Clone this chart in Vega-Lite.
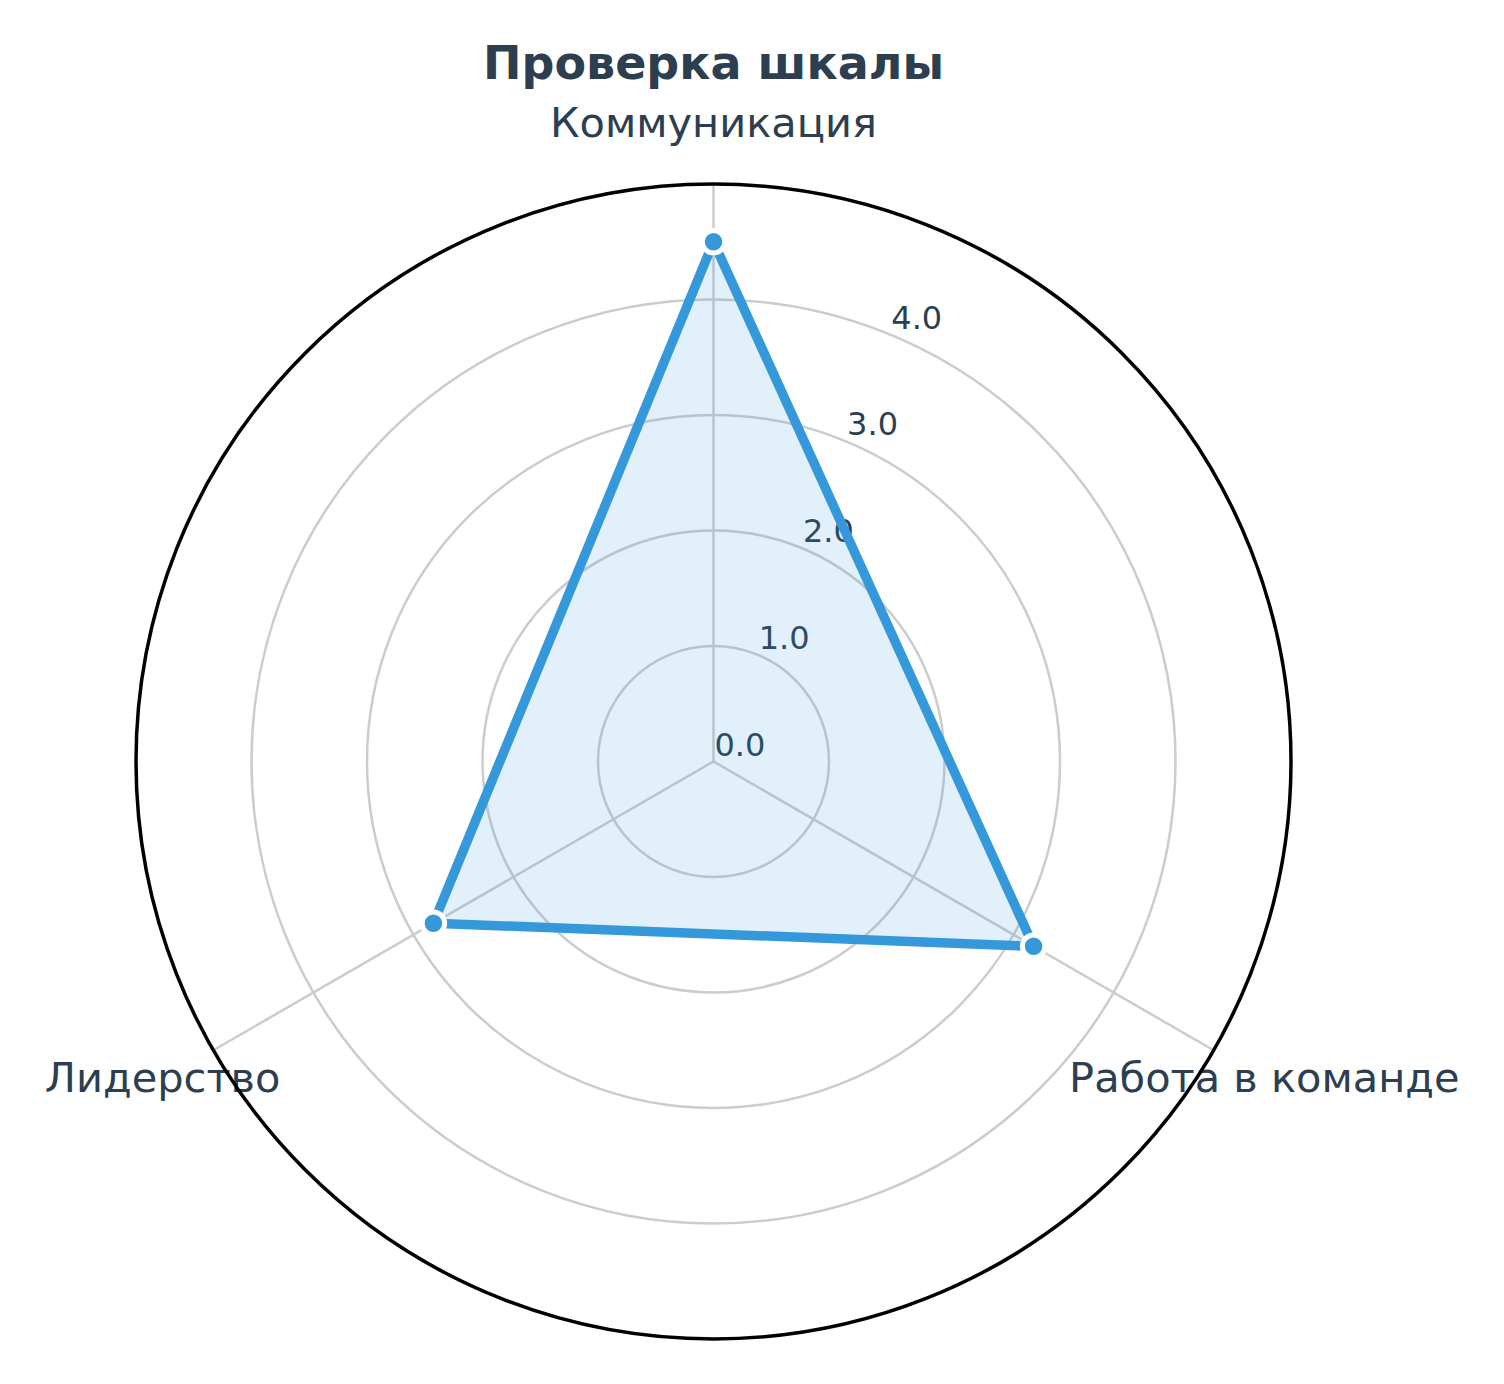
{
  "$schema": "https://vega.github.io/schema/vega-lite/v6.json",
  "width": 1155,
  "height": 1155,
  "autosize": {"type": "none"},
  "padding": {"left": 136, "top": 184, "right": 213, "bottom": 45},
  "background": "white",
  "title": {"text": "Проверка шкалы", "font": "DejaVu Sans", "fontSize": 46, "fontWeight": "bold", "color": "#2c3e50", "anchor": "middle", "frame": "group", "offset": 15},
  "config": {"view": {"stroke": null}},
  "datasets": {
    "scores": [
      {"axis": "Коммуникация", "order": 0, "value": 4.5},
      {"axis": "Работа в команде", "order": 1, "value": 3.2},
      {"axis": "Лидерство", "order": 2, "value": 2.8}
    ],
    "rings": [{"r": 1}, {"r": 2}, {"r": 3}, {"r": 4}],
    "outer": [{"r": 5}],
    "ticks": [
      {"t": 0, "label": "0.0"},
      {"t": 1, "label": "1.0"},
      {"t": 2, "label": "2.0"},
      {"t": 3, "label": "3.0"},
      {"t": 4, "label": "4.0"}
    ]
  },
  "layer": [
    {
      "data": {"name": "rings"},
      "mark": {"type": "arc", "theta": 0, "theta2": 6.2832, "filled": false, "stroke": "#cccccc", "strokeWidth": 2.5},
      "encoding": {
        "radius": {"field": "r", "type": "quantitative", "stack": null, "scale": {"type": "linear", "domain": [0, 5], "range": [0, 577.5]}, "legend": null}
      }
    },
    {
      "data": {"name": "scores"},
      "transform": [
        {"calculate": "datum.order * 2 * PI / 3", "as": "theta"},
        {"calculate": "5 * sin(datum.theta)", "as": "xe"},
        {"calculate": "5 * cos(datum.theta)", "as": "ye"},
        {"calculate": "0", "as": "zero"}
      ],
      "mark": {"type": "rule", "stroke": "#cccccc", "strokeWidth": 2.5},
      "encoding": {
        "x": {"field": "zero", "type": "quantitative", "scale": {"domain": [-5, 5], "nice": false}, "axis": null},
        "y": {"field": "zero", "type": "quantitative", "scale": {"domain": [-5, 5], "nice": false}, "axis": null},
        "x2": {"field": "xe"},
        "y2": {"field": "ye"}
      }
    },
    {
      "data": {"name": "ticks"},
      "transform": [
        {"calculate": "datum.t * sin(PI / 8)", "as": "tx"},
        {"calculate": "datum.t * cos(PI / 8)", "as": "ty"}
      ],
      "mark": {"type": "text", "align": "left", "baseline": "alphabetic", "dx": 1, "dy": -6, "font": "DejaVu Sans", "fontSize": 32, "color": "#2c3e50"},
      "encoding": {
        "x": {"field": "tx", "type": "quantitative", "scale": {"domain": [-5, 5], "nice": false}, "axis": null},
        "y": {"field": "ty", "type": "quantitative", "scale": {"domain": [-5, 5], "nice": false}, "axis": null},
        "text": {"field": "label", "type": "nominal"}
      }
    },
    {
      "data": {"name": "scores"},
      "transform": [
        {"calculate": "datum.order * 2 * PI / 3", "as": "theta"},
        {"calculate": "datum.value * sin(datum.theta)", "as": "px"},
        {"calculate": "datum.value * cos(datum.theta)", "as": "py"}
      ],
      "mark": {"type": "line", "interpolate": "linear-closed", "fill": "#3498db", "fillOpacity": 0.15, "stroke": "#3498db", "strokeWidth": 9.5, "strokeJoin": "round"},
      "encoding": {
        "x": {"field": "px", "type": "quantitative", "scale": {"domain": [-5, 5], "nice": false}, "axis": null},
        "y": {"field": "py", "type": "quantitative", "scale": {"domain": [-5, 5], "nice": false}, "axis": null},
        "order": {"field": "order", "type": "quantitative"}
      }
    },
    {
      "data": {"name": "scores"},
      "transform": [
        {"calculate": "datum.order * 2 * PI / 3", "as": "theta"},
        {"calculate": "datum.value * sin(datum.theta)", "as": "px"},
        {"calculate": "datum.value * cos(datum.theta)", "as": "py"}
      ],
      "mark": {"type": "point", "shape": "circle", "filled": true, "fill": "#3498db", "size": 506, "stroke": "white", "strokeWidth": 5, "opacity": 1},
      "encoding": {
        "x": {"field": "px", "type": "quantitative", "scale": {"domain": [-5, 5], "nice": false}, "axis": null},
        "y": {"field": "py", "type": "quantitative", "scale": {"domain": [-5, 5], "nice": false}, "axis": null}
      }
    },
    {
      "data": {"name": "scores"},
      "transform": [
        {"calculate": "datum.order * 2 * PI / 3", "as": "theta"},
        {"calculate": "5.507 * sin(datum.theta)", "as": "lx"},
        {"calculate": "5.507 * cos(datum.theta)", "as": "ly"}
      ],
      "mark": {"type": "text", "align": "center", "baseline": "middle", "font": "DejaVu Sans", "fontSize": 41.5, "color": "#2c3e50"},
      "encoding": {
        "x": {"field": "lx", "type": "quantitative", "scale": {"domain": [-5, 5], "nice": false}, "axis": null},
        "y": {"field": "ly", "type": "quantitative", "scale": {"domain": [-5, 5], "nice": false}, "axis": null},
        "text": {"field": "axis", "type": "nominal"}
      }
    },
    {
      "data": {"name": "outer"},
      "mark": {"type": "arc", "theta": 0, "theta2": 6.2832, "filled": false, "stroke": "black", "strokeWidth": 3.5},
      "encoding": {
        "radius": {"field": "r", "type": "quantitative", "stack": null, "scale": {"type": "linear", "domain": [0, 5], "range": [0, 577.5]}, "legend": null}
      }
    }
  ]
}
